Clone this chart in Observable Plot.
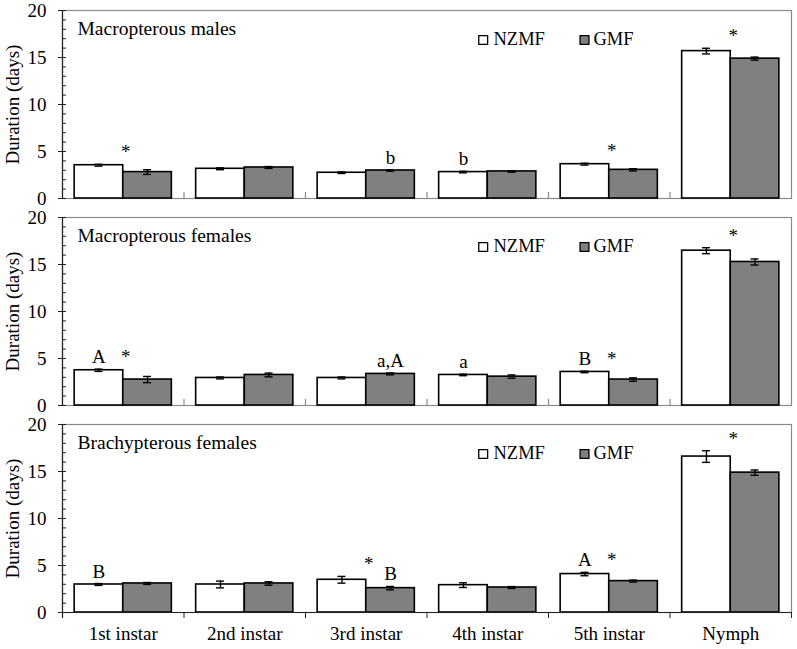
<!DOCTYPE html>
<html>
<head>
<meta charset="utf-8">
<script src="https://cdn.jsdelivr.net/npm/d3@7"></script>
<script src="https://cdn.jsdelivr.net/npm/@observablehq/plot@0.6"></script>
<style>
  html, body { margin: 0; padding: 0; background: #fff; }
  #chart svg { display: block; }
</style>
</head>
<body>
<div id="chart"></div>
<script>
const stages = ["1st instar", "2nd instar", "3rd instar", "4th instar", "5th instar", "Nymph"];
const series = ["NZMF", "GMF"];
const panels = ["Macropterous males", "Macropterous females", "Brachypterous females"];
const yLabel = "Duration (days)";

// Macropterous males
const malesNZMF    = [3.54, 3.16, 2.74, 2.81, 3.65, 15.68];
const malesNZMFErr = [0.10, 0.10, 0.08, 0.08, 0.10, 0.30];
const malesGMF     = [2.81, 3.30, 2.98, 2.88, 3.05, 14.88];
const malesGMFErr  = [0.25, 0.10, 0.08, 0.08, 0.12, 0.16];
// Macropterous females
const femNZMF      = [3.75, 2.93, 2.93, 3.25, 3.57, 16.47];
const femNZMFErr   = [0.12, 0.10, 0.10, 0.08, 0.08, 0.32];
const femGMF       = [2.76, 3.25, 3.36, 3.07, 2.76, 15.27];
const femGMFErr    = [0.33, 0.20, 0.10, 0.18, 0.18, 0.32];
// Brachypterous females
const brachNZMF    = [2.98, 2.98, 3.48, 2.91, 4.09, 16.59];
const brachNZMFErr = [0.10, 0.36, 0.36, 0.25, 0.18, 0.62];
const brachGMF     = [3.09, 3.09, 2.59, 2.66, 3.34, 14.88];
const brachGMFErr  = [0.10, 0.18, 0.18, 0.10, 0.10, 0.28];

// Annotations: panel index, stage index, bar ("NZMF" | "GMF" | "both"), text
const annotPanel = [0, 0, 0, 0, 0,   1, 1, 1, 1, 1, 1, 1,   2, 2, 2, 2, 2, 2];
const annotStage = [0, 2, 3, 4, 5,   0, 0, 2, 3, 4, 4, 5,   0, 2, 2, 4, 4, 5];
const annotBar   = ["both", "GMF", "NZMF", "both", "both",
                    "NZMF", "both", "GMF", "NZMF", "NZMF", "both", "both",
                    "NZMF", "both", "GMF", "NZMF", "both", "both"];
const annotText  = ["*", "b", "b", "*", "*",
                    "A", "*", "a,A", "a", "B", "*", "*",
                    "B", "*", "B", "A", "*", "*"];

const values = [[malesNZMF, malesGMF], [femNZMF, femGMF], [brachNZMF, brachGMF]];
const errors = [[malesNZMFErr, malesGMFErr], [femNZMFErr, femGMFErr], [brachNZMFErr, brachGMFErr]];

const barW = 0.4, groupPad = 0.1;
const rows = [];
panels.forEach((p, pi) => {
  stages.forEach((st, i) => {
    series.forEach((s, si) => {
      const x1 = i + groupPad + si * barW;
      rows.push({panel: p, stage: st, series: s, x1, x2: x1 + barW, xc: x1 + barW / 2,
                 value: values[pi][si][i], err: errors[pi][si][i]});
    });
  });
});
const topOf = (pi, i, si) => values[pi][si][i] + errors[pi][si][i];
const annots = annotText.map((t, k) => {
  const pi = annotPanel[k], i = annotStage[k], b = annotBar[k];
  let x, y;
  if (b === "both") { x = i + 0.5 + 0.02; y = Math.max(topOf(pi, i, 0), topOf(pi, i, 1)); }
  else { const si = series.indexOf(b); x = i + groupPad + si * barW + barW / 2; y = topOf(pi, i, si); }
  return {panel: panels[pi], text: t, x, y};
});
const upTicks = [];
panels.slice(0, 2).forEach(p => d3.range(1, 6).forEach(b => upTicks.push({panel: p, b})));

const plotW = 797 - 62 - 6;
const capHalf = 0.033;
const font = "Liberation Serif, Times New Roman, serif";
const fs = 19;

const chart = Plot.plot({
  width: 797,
  height: 649,
  marginTop: 9,
  marginBottom: 36,
  marginLeft: 62,
  marginRight: 6,
  style: {fontFamily: font, fontSize: fs + "px", color: "#000", background: "#fff"},
  x: {type: "linear", domain: [0, 6]},
  y: {domain: [0, 20]},
  fy: {domain: panels, axis: null, paddingInner: 0.09, paddingOuter: 0},
  marks: [
    Plot.frame({stroke: "#8a8a8a", strokeWidth: 1.2}),
    Plot.ruleX(upTicks, {x: "b", y1: 0, y2: 0.65, fy: "panel", stroke: "#8a8a8a", strokeWidth: 1.2}),
    Plot.rectY(rows, {x1: "x1", x2: "x2", y1: 0, y2: "value", fy: "panel",
      fill: d => d.series === "NZMF" ? "#ffffff" : "#808080", stroke: "#000", strokeWidth: 1.6}),
    Plot.ruleX(rows, {x: "xc", y1: d => d.value - d.err, y2: d => d.value + d.err, fy: "panel", stroke: "#000", strokeWidth: 1.4}),
    Plot.ruleY(rows, {y: d => d.value + d.err, x1: d => d.xc - capHalf, x2: d => d.xc + capHalf, fy: "panel", stroke: "#000", strokeWidth: 1.4}),
    Plot.ruleY(rows, {y: d => d.value - d.err, x1: d => d.xc - capHalf, x2: d => d.xc + capHalf, fy: "panel", stroke: "#000", strokeWidth: 1.4}),
    Plot.text(annots, {x: "x", y: "y", text: "text", fy: "panel", dy: -6, lineAnchor: "bottom", fontSize: fs}),
    // left axis line and ticks
    Plot.ruleX([0], {stroke: "#222", strokeWidth: 1.2}),
    Plot.ruleX([{panel: panels[2]}], {x: 0, y1: 0, y2: -0.6, fy: "panel", stroke: "#222", strokeWidth: 1.2}),
    Plot.ruleY([{panel: panels[2]}], {y: 0, fy: "panel", stroke: "#222", strokeWidth: 1.2}),
    Plot.tickY(d3.range(0, 21), {y: d => d, insetRight: plotW - 4, stroke: "#222", strokeWidth: 1}),
    Plot.axisY({ticks: [0, 5, 10, 15, 20], tickSize: 4, tickPadding: 12, fontSize: fs, stroke: "#222", label: null}),
    Plot.text(panels, {fy: d => d, text: () => yLabel, frameAnchor: "left", rotate: -90, dx: -50,
      textAnchor: "middle", lineAnchor: "middle", fontSize: fs}),
    // bottom x axis
    Plot.axisX({ticks: d3.range(0, 7), tickSize: 6, text: null, stroke: "#222"}),
    Plot.axisX({ticks: d3.range(0, 6).map(i => i + 0.5), tickSize: 0, tickPadding: 14, fontSize: fs,
      tickFormat: v => stages[Math.floor(v)], label: null}),
    // panel titles
    Plot.text(panels, {fy: d => d, text: d => d, frameAnchor: "top-left", dx: 15, dy: 18,
      textAnchor: "start", lineAnchor: "middle", fontSize: fs + 0.5}),
    // legends
    Plot.dot(panels, {fy: d => d, frameAnchor: "top-left", dx: 420.7, dy: 29.5, symbol: "square", r: 5,
      fill: "#ffffff", stroke: "#000", strokeWidth: 1.3}),
    Plot.text(panels, {fy: d => d, text: () => "NZMF", frameAnchor: "top-left", dx: 431, dy: 29,
      textAnchor: "start", lineAnchor: "middle", fontSize: 18.5}),
    Plot.dot(panels, {fy: d => d, frameAnchor: "top-left", dx: 522, dy: 29.5, symbol: "square", r: 5,
      fill: "#808080", stroke: "#000", strokeWidth: 1.3}),
    Plot.text(panels, {fy: d => d, text: () => "GMF", frameAnchor: "top-left", dx: 531, dy: 29,
      textAnchor: "start", lineAnchor: "middle", fontSize: 18.5})
  ]
});
document.getElementById("chart").appendChild(chart);
</script>
</body>
</html>
